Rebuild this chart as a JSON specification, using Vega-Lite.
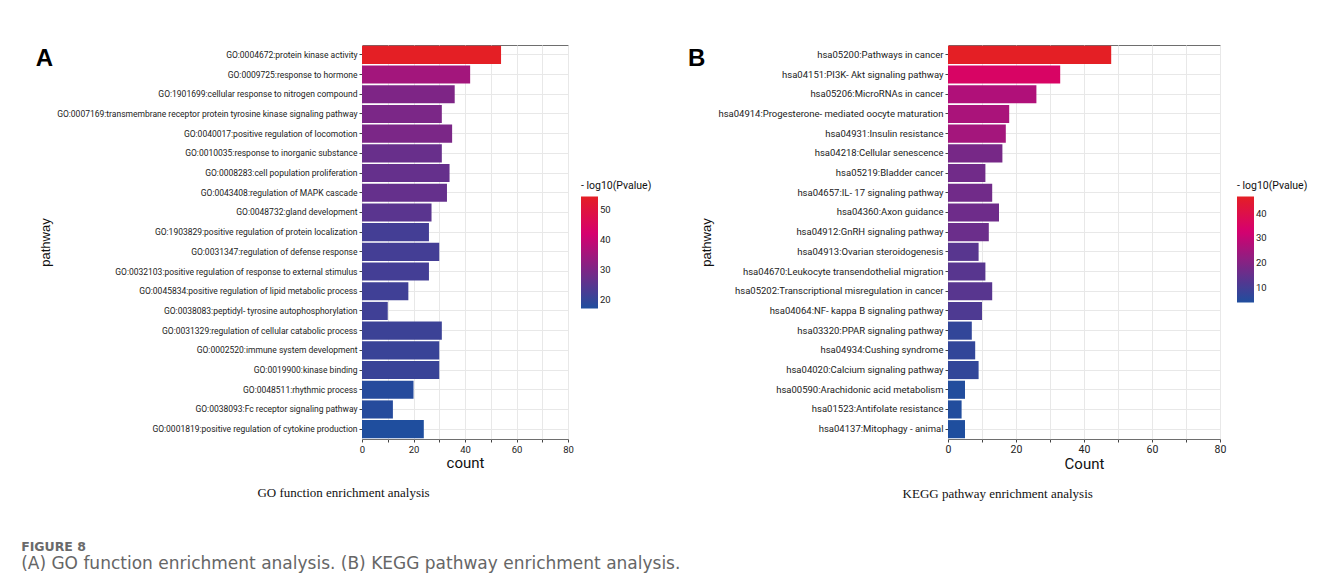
{
  "$schema": "https://vega.github.io/schema/vega-lite/v6.json",
  "padding": {"left": 21, "top": 44, "right": 10, "bottom": 5},
  "config": {
    "view": {"stroke": "#6e6e6e", "strokeWidth": 1},
    "font": "Roboto",
    "axis": {"gridColor": "#e8e8e8", "gridWidth": 1, "tickColor": "#444", "tickSize": 3, "labelColor": "#222", "domain": false, "titleFontWeight": "normal", "titleColor": "#111", "maxExtent": 500},
    "legend": {"titleFontWeight": "normal", "titleFontSize": 10.5, "labelFontSize": 9.5, "titleColor": "#111", "labelColor": "#222"}
  },
  "datasets": {
    "go": [
      {"term": "GO:0004672:protein kinase activity", "count": 54, "logp": 54.4},
      {"term": "GO:0009725:response to hormone", "count": 42, "logp": 35},
      {"term": "GO:1901699:cellular response to nitrogen compound", "count": 36, "logp": 30},
      {"term": "GO:0007169:transmembrane receptor protein tyrosine kinase signaling pathway", "count": 31, "logp": 29.5},
      {"term": "GO:0040017:positive regulation of locomotion", "count": 35, "logp": 29.5},
      {"term": "GO:0010035:response to inorganic substance", "count": 31, "logp": 27},
      {"term": "GO:0008283:cell population proliferation", "count": 34, "logp": 26.5},
      {"term": "GO:0043408:regulation of MAPK cascade", "count": 33, "logp": 26.5},
      {"term": "GO:0048732:gland development", "count": 27, "logp": 25},
      {"term": "GO:1903829:positive regulation of protein localization", "count": 26, "logp": 22},
      {"term": "GO:0031347:regulation of defense response", "count": 30, "logp": 22},
      {"term": "GO:0032103:positive regulation of response to external stimulus", "count": 26, "logp": 22},
      {"term": "GO:0045834:positive regulation of lipid metabolic process", "count": 18, "logp": 21.5},
      {"term": "GO:0038083:peptidyl- tyrosine autophosphorylation", "count": 10, "logp": 21.5},
      {"term": "GO:0031329:regulation of cellular catabolic process", "count": 31, "logp": 21},
      {"term": "GO:0002520:immune system development", "count": 30, "logp": 20.5},
      {"term": "GO:0019900:kinase binding", "count": 30, "logp": 20.5},
      {"term": "GO:0048511:rhythmic process", "count": 20, "logp": 18},
      {"term": "GO:0038093:Fc receptor signaling pathway", "count": 12, "logp": 18},
      {"term": "GO:0001819:positive regulation of cytokine production", "count": 24, "logp": 17}
    ],
    "kegg": [
      {"term": "hsa05200:Pathways in cancer", "count": 48, "logp": 47},
      {"term": "hsa04151:PI3K- Akt signaling pathway", "count": 33, "logp": 35},
      {"term": "hsa05206:MicroRNAs in cancer", "count": 26, "logp": 27},
      {"term": "hsa04914:Progesterone- mediated oocyte maturation", "count": 18, "logp": 26},
      {"term": "hsa04931:Insulin resistance", "count": 17, "logp": 25},
      {"term": "hsa04218:Cellular senescence", "count": 16, "logp": 18},
      {"term": "hsa05219:Bladder cancer", "count": 11, "logp": 17},
      {"term": "hsa04657:IL- 17 signaling pathway", "count": 13, "logp": 17},
      {"term": "hsa04360:Axon guidance", "count": 15, "logp": 16.5},
      {"term": "hsa04912:GnRH signaling pathway", "count": 12, "logp": 16},
      {"term": "hsa04913:Ovarian steroidogenesis", "count": 9, "logp": 13},
      {"term": "hsa04670:Leukocyte transendothelial migration", "count": 11, "logp": 13},
      {"term": "hsa05202:Transcriptional misregulation in cancer", "count": 13, "logp": 13},
      {"term": "hsa04064:NF- kappa B signaling pathway", "count": 10, "logp": 11.5},
      {"term": "hsa03320:PPAR signaling pathway", "count": 7, "logp": 7},
      {"term": "hsa04934:Cushing syndrome", "count": 8, "logp": 7},
      {"term": "hsa04020:Calcium signaling pathway", "count": 9, "logp": 7},
      {"term": "hsa00590:Arachidonic acid metabolism", "count": 5, "logp": 4.5},
      {"term": "hsa01523:Antifolate resistance", "count": 4, "logp": 4.5},
      {"term": "hsa04137:Mitophagy -  animal", "count": 5, "logp": 4}
    ]
  },
  "title": {
    "text": "FIGURE 8",
    "subtitle": "(A) GO function enrichment analysis. (B) KEGG pathway enrichment analysis.",
    "orient": "bottom",
    "anchor": "start",
    "frame": "bounds",
    "font": "DejaVu Sans",
    "fontSize": 12.5,
    "fontWeight": "bold",
    "color": "#6a6a6a",
    "subtitleFont": "DejaVu Sans",
    "subtitleFontSize": 17,
    "subtitleColor": "#666",
    "subtitlePadding": 2,
    "offset": 40,
    "dx": -14
  },
  "spacing": 35,
  "resolve": {"scale": {"color": "independent"}},
  "hconcat": [
    {
      "title": {"text": "GO function enrichment analysis", "orient": "bottom", "anchor": "middle", "frame": "bounds", "font": "Liberation Serif", "fontSize": 13, "fontWeight": "normal", "color": "#111", "offset": 16},
      "vconcat": [
        {
          "title": {"text": "A", "orient": "top", "anchor": "start", "frame": "bounds", "font": "Liberation Sans", "fontSize": 24, "fontWeight": "bold", "color": "#000", "dy": 26, "dx": -4, "offset": 0},
          "width": 206,
          "height": 394,
          "data": {"name": "go"},
          "mark": {"type": "bar"},
          "encoding": {
            "y": {"field": "term", "type": "nominal", "sort": null,
                  "scale": {"paddingInner": 0.08, "paddingOuter": 0.04},
                  "axis": {"title": "pathway", "titleFont": "Liberation Sans", "titleFontSize": 13, "titlePadding": 4, "labelFontSize": 8.5, "labelLimit": 400, "grid": true, "bandPosition": 0.5}},
            "x": {"field": "count", "type": "quantitative",
                  "scale": {"domain": [0, 80], "nice": false},
                  "axis": {"title": "count", "titleFontSize": 15, "titlePadding": 2, "labelFontSize": 9.5, "values": [0, 10, 20, 30, 40, 50, 60, 70, 80], "labelExpr": "datum.value % 20 == 0 ? datum.label : ''", "labelFlush": false}},
            "color": {"field": "logp", "type": "quantitative",
                      "scale": {"domain": [17, 42, 54.4], "range": ["#1f4e9e", "#d6006f", "#e41f25"], "interpolate": "rgb"},
                      "legend": {"title": "- log10(Pvalue)", "values": [20, 30, 40, 50], "gradientLength": 112, "gradientThickness": 17, "orient": "none", "legendX": 219, "legendY": 136, "direction": "vertical"}}
          }
        }
      ]
    },
    {
      "title": {"text": "KEGG pathway enrichment analysis", "orient": "bottom", "anchor": "middle", "frame": "bounds", "font": "Liberation Serif", "fontSize": 13, "fontWeight": "normal", "color": "#111", "offset": 16},
      "vconcat": [
        {
          "title": {"text": "B", "orient": "top", "anchor": "start", "frame": "bounds", "font": "Liberation Sans", "fontSize": 24, "fontWeight": "bold", "color": "#000", "dy": 26, "dx": -13, "offset": 0},
          "width": 272,
          "height": 394,
          "data": {"name": "kegg"},
          "mark": {"type": "bar"},
          "encoding": {
            "y": {"field": "term", "type": "nominal", "sort": null,
                  "scale": {"paddingInner": 0.08, "paddingOuter": 0.04},
                  "axis": {"title": "pathway", "titleFont": "Liberation Sans", "titleFontSize": 13, "titlePadding": 4, "labelFontSize": 9.5, "labelLimit": 400, "grid": true, "bandPosition": 0.5}},
            "x": {"field": "count", "type": "quantitative",
                  "scale": {"domain": [0, 80], "nice": false},
                  "axis": {"title": "Count", "titleFontSize": 15, "titlePadding": 2, "labelFontSize": 10.5, "values": [0, 10, 20, 30, 40, 50, 60, 70, 80], "labelExpr": "datum.value % 20 == 0 ? datum.label : ''", "labelFlush": false}},
            "color": {"field": "logp", "type": "quantitative",
                      "scale": {"domain": [4, 33, 47], "range": ["#1f4e9e", "#d6006f", "#e41f25"], "interpolate": "rgb"},
                      "legend": {"title": "- log10(Pvalue)", "values": [10, 20, 30, 40], "gradientLength": 106, "gradientThickness": 17, "orient": "none", "legendX": 289, "legendY": 136, "direction": "vertical"}}
          }
        }
      ]
    }
  ]
}
